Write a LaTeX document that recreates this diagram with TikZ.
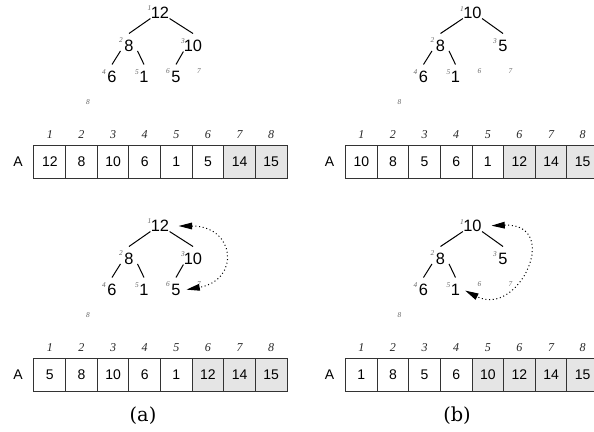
\documentclass[tikz,border=0pt]{standalone}
\usepackage{fontspec}
\usetikzlibrary{arrows.meta}
\newfontfamily\heapsans{Liberation Sans}
\newfontfamily\heapserif{Liberation Serif}
\newfontfamily\heapcap{DejaVu Serif}

\tikzset{every picture/.style={line width=0.75pt}}
\tikzset{
  heapkey/.style={font=\heapsans\fontsize{12.3}{14}\selectfont, inner sep=0pt, minimum width=12pt, minimum height=18pt},
  heapidx/.style={font=\heapserif\itshape\fontsize{5.5}{6}\selectfont, text=black!60, inner sep=0pt},
  arrcell/.style={draw=black!80, minimum width=23.72pt, minimum height=24.75pt, inner sep=0pt, font=\heapsans\fontsize{10.5}{12}\selectfont},
  arrdone/.style={arrcell, fill=black!10},
  arridx/.style={font=\heapserif\itshape\fontsize{9}{10}\selectfont, text=black!85, inner sep=0pt},
  arrname/.style={font=\heapsans\fontsize{10.5}{12}\selectfont, inner sep=0pt},
  swaparr/.style={dotted, {Triangle[length=10pt,width=5pt]}-{Triangle[length=10pt,width=5pt]}},
  subcap/.style={font=\heapcap\fontsize{14.5}{17}\selectfont, inner sep=0pt}
}

\begin{document}
\begin{tikzpicture}[x=0.75pt,y=0.75pt,yscale=-1,xscale=1]
\useasboundingbox (0,0) rectangle (594,432);

%%%%%%%% (a), heap before the swap
% Text Node
\node[heapkey] (ta1) at (160,13) {12};
\node[heapkey] (ta2) at (129,46) {8};
\node[heapkey] (ta3) at (193,46) {10};
\node[heapkey] (ta4) at (112,77) {6};
\node[heapkey] (ta5) at (144,77) {1};
\node[heapkey] (ta6) at (176,77) {5};
% Text Node
\node[heapidx] (ta-p1) at (149.5,8) {1};
\node[heapidx] (ta-p2) at (121,40) {2};
\node[heapidx] (ta-p3) at (183,41) {3};
\node[heapidx] (ta-p4) at (104,72) {4};
\node[heapidx] (ta-p5) at (137,72) {5};
\node[heapidx] (ta-p6) at (168,71) {6};
\node[heapidx] (ta-p7) at (199,71) {7};
\node[heapidx] (ta-p8) at (88,102) {8};
%Straight Lines
\draw (ta1.-150) -- (ta2.north);
\draw (ta1.-30) -- (ta3.north);
\draw (ta2.-150) -- (ta4.north);
\draw (ta2.-30) -- (ta5.north);
\draw (ta3.-150) -- (ta6.north);
% Array
\node[arrname] (ta-A) at (18,162) {A};
\node[arrcell] (ta-c1) at (49.8125,161.5) {12};
\node[arrcell] (ta-c2) at (81.4375,161.5) {8};
\node[arrcell] (ta-c3) at (113.0625,161.5) {10};
\node[arrcell] (ta-c4) at (144.6875,161.5) {6};
\node[arrcell] (ta-c5) at (176.3125,161.5) {1};
\node[arrcell] (ta-c6) at (207.9375,161.5) {5};
\node[arrdone] (ta-c7) at (239.5625,161.5) {14};
\node[arrdone] (ta-c8) at (271.1875,161.5) {15};
\node[arridx] (ta-i1) at (49.8125,135) {1};
\node[arridx] (ta-i2) at (81.4375,135) {2};
\node[arridx] (ta-i3) at (113.0625,135) {3};
\node[arridx] (ta-i4) at (144.6875,135) {4};
\node[arridx] (ta-i5) at (176.3125,135) {5};
\node[arridx] (ta-i6) at (207.9375,135) {6};
\node[arridx] (ta-i7) at (239.5625,135) {7};
\node[arridx] (ta-i8) at (271.1875,135) {8};

%%%%%%%% (a), root swapped with the last key
\begin{scope}[shift={(0,213)}]
% Text Node
\node[heapkey] (ba1) at (160,13) {12};
\node[heapkey] (ba2) at (129,46) {8};
\node[heapkey] (ba3) at (193,46) {10};
\node[heapkey] (ba4) at (112,77) {6};
\node[heapkey] (ba5) at (144,77) {1};
\node[heapkey] (ba6) at (176,77) {5};
% Text Node
\node[heapidx] (ba-p1) at (149.5,8) {1};
\node[heapidx] (ba-p2) at (121,40) {2};
\node[heapidx] (ba-p3) at (183,41) {3};
\node[heapidx] (ba-p4) at (104,72) {4};
\node[heapidx] (ba-p5) at (137,72) {5};
\node[heapidx] (ba-p6) at (168,71) {6};
\node[heapidx] (ba-p7) at (199,71) {7};
\node[heapidx] (ba-p8) at (88,102) {8};
%Straight Lines
\draw (ba1.-150) -- (ba2.north);
\draw (ba1.-30) -- (ba3.north);
\draw (ba2.-150) -- (ba4.north);
\draw (ba2.-30) -- (ba5.north);
\draw (ba3.-150) -- (ba6.north);
%Curve Lines
\draw[swaparr, shorten <=6.8pt, shorten >=1.5pt] (ba1.east) .. controls +(66,0) and +(56,-10) .. (ba6.east);
% Array
\node[arrname] (ba-A) at (18,162) {A};
\node[arrcell] (ba-c1) at (49.8125,161.5) {5};
\node[arrcell] (ba-c2) at (81.4375,161.5) {8};
\node[arrcell] (ba-c3) at (113.0625,161.5) {10};
\node[arrcell] (ba-c4) at (144.6875,161.5) {6};
\node[arrcell] (ba-c5) at (176.3125,161.5) {1};
\node[arrdone] (ba-c6) at (207.9375,161.5) {12};
\node[arrdone] (ba-c7) at (239.5625,161.5) {14};
\node[arrdone] (ba-c8) at (271.1875,161.5) {15};
\node[arridx] (ba-i1) at (49.8125,135) {1};
\node[arridx] (ba-i2) at (81.4375,135) {2};
\node[arridx] (ba-i3) at (113.0625,135) {3};
\node[arridx] (ba-i4) at (144.6875,135) {4};
\node[arridx] (ba-i5) at (176.3125,135) {5};
\node[arridx] (ba-i6) at (207.9375,135) {6};
\node[arridx] (ba-i7) at (239.5625,135) {7};
\node[arridx] (ba-i8) at (271.1875,135) {8};
\end{scope}

%%%%%%%% (b), heap before the swap
\begin{scope}[shift={(311.5,0)}]
% Text Node
\node[heapkey] (tb1) at (161,13) {10};
\node[heapkey] (tb2) at (129,46) {8};
\node[heapkey] (tb3) at (191.5,46) {5};
\node[heapkey] (tb4) at (112,77) {6};
\node[heapkey] (tb5) at (144,77) {1};
% Text Node
\node[heapidx] (tb-p1) at (150.5,9) {1};
\node[heapidx] (tb-p2) at (121,40) {2};
\node[heapidx] (tb-p3) at (183.5,41) {3};
\node[heapidx] (tb-p4) at (104,72) {4};
\node[heapidx] (tb-p5) at (137,72) {5};
\node[heapidx] (tb-p6) at (168,71) {6};
\node[heapidx] (tb-p7) at (199,71) {7};
\node[heapidx] (tb-p8) at (88,102) {8};
%Straight Lines
\draw (tb1.-150) -- (tb2.north);
\draw (tb1.-30) -- (tb3.north);
\draw (tb2.-150) -- (tb4.north);
\draw (tb2.-30) -- (tb5.north);
% Array
\node[arrname] (tb-A) at (18,162) {A};
\node[arrcell] (tb-c1) at (49.8125,161.5) {10};
\node[arrcell] (tb-c2) at (81.4375,161.5) {8};
\node[arrcell] (tb-c3) at (113.0625,161.5) {5};
\node[arrcell] (tb-c4) at (144.6875,161.5) {6};
\node[arrcell] (tb-c5) at (176.3125,161.5) {1};
\node[arrdone] (tb-c6) at (207.9375,161.5) {12};
\node[arrdone] (tb-c7) at (239.5625,161.5) {14};
\node[arrdone] (tb-c8) at (271.1875,161.5) {15};
\node[arridx] (tb-i1) at (49.8125,135) {1};
\node[arridx] (tb-i2) at (81.4375,135) {2};
\node[arridx] (tb-i3) at (113.0625,135) {3};
\node[arridx] (tb-i4) at (144.6875,135) {4};
\node[arridx] (tb-i5) at (176.3125,135) {5};
\node[arridx] (tb-i6) at (207.9375,135) {6};
\node[arridx] (tb-i7) at (239.5625,135) {7};
\node[arridx] (tb-i8) at (271.1875,135) {8};
\end{scope}

%%%%%%%% (b), root swapped with the last key
\begin{scope}[shift={(311.5,213)}]
% Text Node
\node[heapkey] (bb1) at (161,13) {10};
\node[heapkey] (bb2) at (129,46) {8};
\node[heapkey] (bb3) at (191.5,46) {5};
\node[heapkey] (bb4) at (112,77) {6};
\node[heapkey] (bb5) at (144,77) {1};
% Text Node
\node[heapidx] (bb-p1) at (150.5,9) {1};
\node[heapidx] (bb-p2) at (121,40) {2};
\node[heapidx] (bb-p3) at (183.5,41) {3};
\node[heapidx] (bb-p4) at (104,72) {4};
\node[heapidx] (bb-p5) at (137,72) {5};
\node[heapidx] (bb-p6) at (168,71) {6};
\node[heapidx] (bb-p7) at (199,71) {7};
\node[heapidx] (bb-p8) at (88,102) {8};
%Straight Lines
\draw (bb1.-150) -- (bb2.north);
\draw (bb1.-30) -- (bb3.north);
\draw (bb2.-150) -- (bb4.north);
\draw (bb2.-30) -- (bb5.north);
%Curve Lines
\draw[swaparr, shorten <=7pt, shorten >=1pt] (bb1.east) .. controls +(80,-3) and +(55,28) .. (bb5.east);
% Array
\node[arrname] (bb-A) at (18,162) {A};
\node[arrcell] (bb-c1) at (49.8125,161.5) {1};
\node[arrcell] (bb-c2) at (81.4375,161.5) {8};
\node[arrcell] (bb-c3) at (113.0625,161.5) {5};
\node[arrcell] (bb-c4) at (144.6875,161.5) {6};
\node[arrdone] (bb-c5) at (176.3125,161.5) {10};
\node[arrdone] (bb-c6) at (207.9375,161.5) {12};
\node[arrdone] (bb-c7) at (239.5625,161.5) {14};
\node[arrdone] (bb-c8) at (271.1875,161.5) {15};
\node[arridx] (bb-i1) at (49.8125,135) {1};
\node[arridx] (bb-i2) at (81.4375,135) {2};
\node[arridx] (bb-i3) at (113.0625,135) {3};
\node[arridx] (bb-i4) at (144.6875,135) {4};
\node[arridx] (bb-i5) at (176.3125,135) {5};
\node[arridx] (bb-i6) at (207.9375,135) {6};
\node[arridx] (bb-i7) at (239.5625,135) {7};
\node[arridx] (bb-i8) at (271.1875,135) {8};
\end{scope}

% Text Node
\node[subcap] (capa) at (143,416) {(a)};
\node[subcap] (capb) at (457,416) {(b)};

\end{tikzpicture}
\end{document}
